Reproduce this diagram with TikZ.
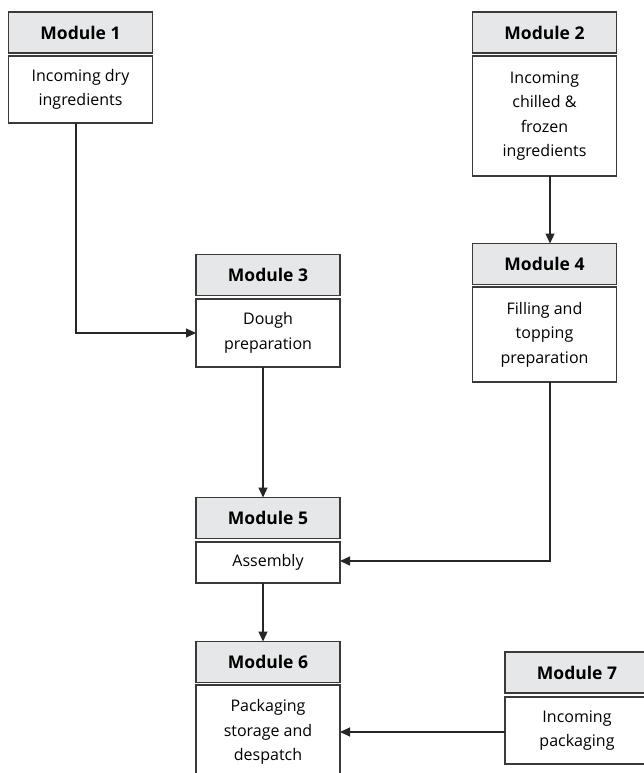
\documentclass[tikz,border=0pt]{standalone}
\usepackage{fontspec}
\setmainfont{Open Sans}
\usetikzlibrary{arrows.meta}
\definecolor{boxline}{HTML}{3A3A3A}
\definecolor{headfill}{HTML}{E6E7E8}
\tikzset{
  every node/.style={inner sep=0pt, outer sep=0pt},
  head/.style={draw=boxline, line width=1.2bp, fill=headfill,
    minimum width=144bp, minimum height=41bp,
    font=\fontsize{17.5bp}{19bp}\selectfont\bfseries},
  body/.style={draw=boxline, line width=1.2bp, fill=white,
    minimum width=144bp, align=center,
    font=\fontsize{16bp}{24.5bp}\selectfont},
  flow/.style={draw=black!85, line width=1.2bp,
    -{Triangle[length=10bp,width=9bp]}}
}
\begin{document}
\begin{tikzpicture}[x=1bp,y=-1bp]
\useasboundingbox (0,0) rectangle (644,773);
\clip (0,0) rectangle (644,773);

% Module 1: dry ingredients
\node[head] (h1) at (80.5,32.5) {Module 1};
\node[body, minimum height=67bp] (b1) at (80.5,89.5) {Incoming dry\\ingredients};

% Module 2: chilled and frozen ingredients
\node[head] (h2) at (544.5,32.5) {Module 2};
\node[body, minimum height=120bp] (b2) at (544.5,116) {Incoming\\chilled \&\\frozen\\ingredients};

% Module 3: dough
\node[head] (h3) at (268,275) {Module 3};
\node[body, minimum height=68bp] (b3) at (268,333) {Dough\\preparation};

% Module 4: filling and topping
\node[head] (h4) at (544.5,264) {Module 4};
\node[body, minimum height=95bp] (b4) at (544.5,334.5) {Filling and\\topping\\preparation};

% Module 5: assembly
\node[head] (h5) at (268,518) {Module 5};
\node[body, minimum height=41bp] (b5) at (268,562.5) {Assembly};

% Module 6: packaging, storage, despatch
\node[head] (h6) at (268,662) {Module 6};
\node[body, minimum height=94bp] (b6) at (268,732) {Packaging\\storage and\\despatch};

% Module 7: packaging materials
\node[head] (h7) at (577,672.5) {Module 7};
\node[body, minimum height=67bp] (b7) at (577,730.5) {Incoming\\packaging};

% Flow connectors
\coordinate (c1) at ([xshift=-4.5bp]b1.south);
\draw[flow] (c1) |- (b3.west);
\draw[flow] ([xshift=5.5bp]b2.south) -- ([xshift=5.5bp]h4.north);
\draw[flow] ([xshift=-5bp]b3.south) -- ([xshift=-5bp]h5.north);
\coordinate (c4) at ([xshift=5.5bp]b4.south);
\draw[flow] (c4) |- ([yshift=1.5bp]b5.east);
\draw[flow] ([xshift=-5bp]b5.south) -- ([xshift=-5bp]h6.north);
\draw[flow] ([yshift=-1.5bp]b7.west) -- ([yshift=-1.5bp]b7.west -| b6.east);
\end{tikzpicture}
\end{document}
